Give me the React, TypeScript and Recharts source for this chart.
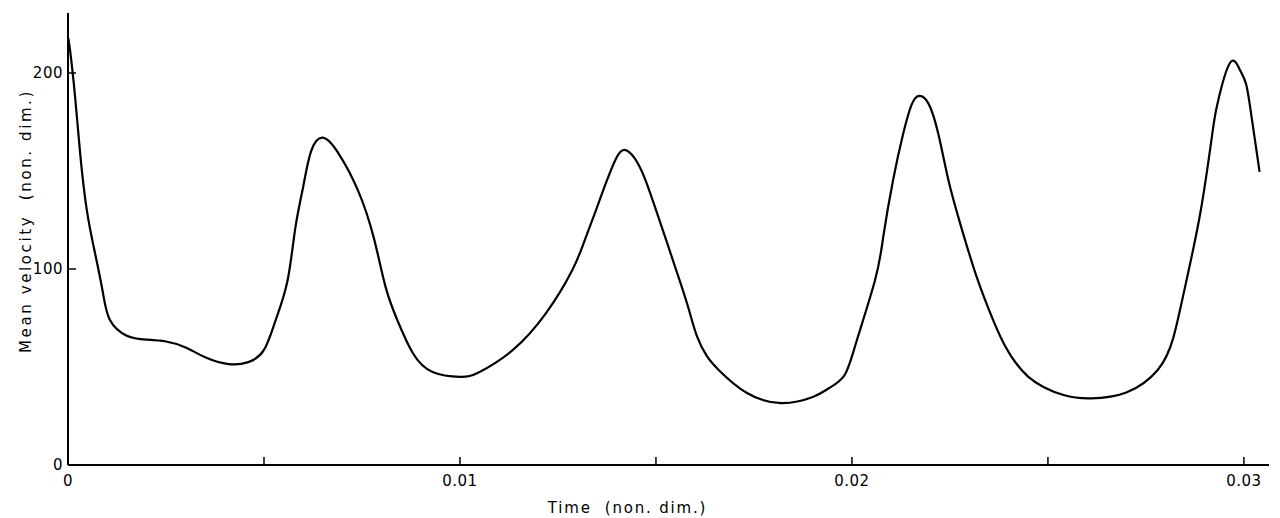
import React from 'react';
import { LineChart, Line, XAxis, YAxis, Label } from 'recharts';

// time (non-dim) and mean velocity
const times = [
  0, 0.00005, 0.00018, 0.00031, 0.00048, 0.00069, 0.00089, 0.00107, 0.0015, 0.002,
  0.0025, 0.003, 0.0035, 0.0041, 0.0046, 0.005, 0.0053, 0.0056, 0.0058, 0.006,
  0.0062, 0.0065, 0.0069, 0.0074, 0.0078, 0.0081, 0.0084, 0.0088, 0.0093, 0.01,
  0.0105, 0.01135, 0.0122, 0.01286, 0.01317, 0.01344, 0.0137, 0.01397, 0.01419, 0.01445,
  0.01472, 0.01503, 0.0153, 0.01552, 0.0158, 0.01604, 0.0163, 0.0166, 0.0173, 0.0182,
  0.019, 0.0194, 0.0198, 0.0201, 0.02059, 0.0208, 0.02105, 0.02131, 0.02152,
  0.02171, 0.02195, 0.0222, 0.02246, 0.02276, 0.02318, 0.0236, 0.0239, 0.0245, 0.0254,
  0.0261, 0.027, 0.0278, 0.0282, 0.0285, 0.0289, 0.0292, 0.0293, 0.02943, 0.02968,
  0.0299, 0.03006, 0.0302, 0.0304,
];
const velocity = [
  218, 212, 188, 159, 130, 108, 88, 74, 66, 64,
  63, 60, 55, 51.5, 52.5, 58.7, 74, 94, 121, 142,
  160, 167, 159, 140, 116, 91, 74, 57, 47.5, 45,
  47.5, 58.7, 77.6, 99.2, 114, 128.4, 142.6, 155.9, 160.8, 156.7,
  146, 128.4, 112.4, 99.2, 82, 66, 55.5, 48.5, 37, 31.6,
  34.7, 39, 45.5, 62, 94.4, 116.5, 145.4, 169.2, 183.7,
  188.3, 184.5, 169.2, 145.4, 123.3, 96.1, 74, 61, 45, 35.7,
  34, 37, 48.5, 65, 91, 130, 170, 182, 193, 206,
  201.5, 194, 177, 149.5,
];

const xTicks = [0, 0.005, 0.01, 0.015, 0.02, 0.025, 0.03];
const xTickLabels = ['0', '', '0.01', '', '0.02', '', '0.03'];
const yTicks = [0, 100, 200];

const X_MAX = 0.03064;
const Y_MAX = 230.6;

const data = times.map((t, i) => ({ t, v: velocity[i] }));

const FONT = "'DejaVu Sans', sans-serif";
const tickStyle = { fill: '#000', fontSize: 15, fontFamily: FONT, letterSpacing: 0.5 };

function YTitle({ viewBox }: any) {
  const x = viewBox.x + 26;
  const y = viewBox.y + viewBox.height / 2 - 18;
  return (
    <text
      x={x}
      y={y}
      transform={`rotate(-90 ${x} ${y})`}
      textAnchor="middle"
      dominantBaseline="central"
      fontFamily={FONT}
      fontSize={15}
      letterSpacing={2.6}
      fill="#000"
      style={{ whiteSpace: 'pre' }}
    >
      {'Mean velocity  (non. dim.)'}
    </text>
  );
}

function XTitle({ viewBox }: any) {
  const x = viewBox.x + viewBox.width / 2 - 41;
  const y = viewBox.y + 48;
  return (
    <text
      x={x}
      y={y}
      textAnchor="middle"
      fontFamily={FONT}
      fontSize={15}
      letterSpacing={1.8}
      fill="#000"
      style={{ whiteSpace: 'pre' }}
    >
      {'Time  (non. dim.)'}
    </text>
  );
}

export default function App() {
  return (
    <div style={{ position: 'absolute', left: 0, top: 0, width: 1280, height: 518, background: '#fff' }}>
      <LineChart width={1280} height={518} data={data} margin={{ top: 13, right: 11, bottom: 0, left: 0 }}>
        <XAxis
          dataKey="t"
          type="number"
          domain={[0, X_MAX]}
          ticks={xTicks}
          tickFormatter={(v: number) => xTickLabels[xTicks.indexOf(v)] ?? ''}
          height={53}
          tickSize={-8}
          tickMargin={18}
          tick={tickStyle}
          tickLine={{ stroke: '#000', strokeWidth: 1.5 }}
          axisLine={{ stroke: '#000', strokeWidth: 2 }}
          allowDataOverflow
        >
          <Label content={<XTitle />} />
        </XAxis>
        <XAxis
          xAxisId="top"
          orientation="top"
          dataKey="t"
          type="number"
          domain={[0, X_MAX]}
          height={0}
          tick={false}
          tickLine={false}
          axisLine={{ stroke: '#000', strokeWidth: 2 }}
          allowDataOverflow
        />
        <YAxis
          type="number"
          domain={[0, Y_MAX]}
          ticks={yTicks}
          width={68}
          tickSize={-8}
          tickMargin={13}
          tick={tickStyle}
          tickLine={{ stroke: '#000', strokeWidth: 1.5 }}
          axisLine={{ stroke: '#000', strokeWidth: 2 }}
          allowDataOverflow
        >
          <Label content={<YTitle />} />
        </YAxis>
        <YAxis
          yAxisId="right"
          orientation="right"
          type="number"
          domain={[0, Y_MAX]}
          width={0}
          tick={false}
          tickLine={false}
          axisLine={{ stroke: '#000', strokeWidth: 2 }}
          allowDataOverflow
        />
        <Line
          type="natural"
          dataKey="v"
          stroke="#000"
          strokeWidth={2.2}
          dot={false}
          isAnimationActive={false}
        />
      </LineChart>
    </div>
  );
}
